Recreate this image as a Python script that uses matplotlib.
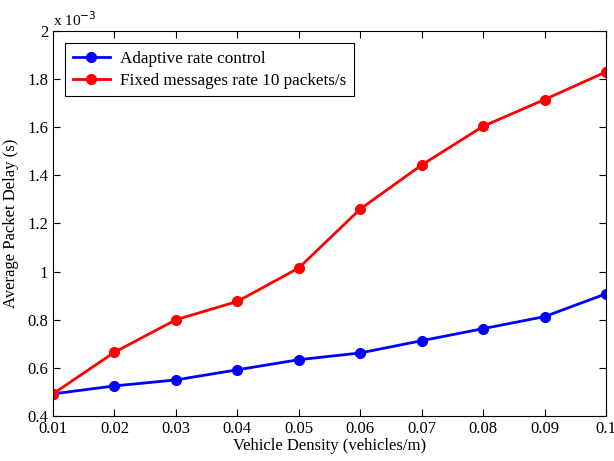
import matplotlib.pyplot as plt
from matplotlib.ticker import FuncFormatter

plt.rcParams['font.family'] = ['Liberation Serif', 'DejaVu Serif']

# vehicle density (vehicles/m)
density = [0.01, 0.02, 0.03, 0.04, 0.05, 0.06, 0.07, 0.08, 0.09, 0.1]

# average packet delay, in units of 1e-3 s
adaptive = [0.492, 0.525, 0.550, 0.592, 0.634, 0.662, 0.713, 0.763, 0.813, 0.908]
fixed = [0.492, 0.665, 0.800, 0.876, 1.015, 1.260, 1.443, 1.604, 1.715, 1.830]

fig = plt.figure(figsize=(6.14, 4.61), dpi=100)
ax = fig.add_axes([0.0863, 0.0976, 0.9007, 0.8352])

ax.plot(density, adaptive, color='blue', marker='o', markersize=7, linewidth=2,
        label='Adaptive rate control')
ax.plot(density, fixed, color='red', marker='o', markersize=7, linewidth=2,
        label='Fixed messages rate 10 packets/s')

ax.set_xlim(0.01, 0.1)
ax.set_ylim(0.4, 2.0)
ax.set_xticks(density)
ax.set_yticks([0.4, 0.6, 0.8, 1.0, 1.2, 1.4, 1.6, 1.8, 2.0])
ax.xaxis.set_major_formatter(FuncFormatter(lambda v, p: '%g' % round(v, 2)))
ax.yaxis.set_major_formatter(FuncFormatter(lambda v, p: '%g' % round(v, 1)))
ax.tick_params(direction='in', top=True, right=True, labelsize=12, length=5)
for s in ax.spines.values():
    s.set_linewidth(0.8)

ax.set_xlabel('Vehicle Density (vehicles/m)', fontsize=12, labelpad=1)
ax.set_ylabel('Average Packet Delay (s)', fontsize=12, labelpad=6)
ax.text(0.0, 1.005, 'x 10$^{-3}$', transform=ax.transAxes, fontsize=11,
        ha='left', va='bottom')

leg = ax.legend(loc='upper left', fontsize=12.3, fancybox=False, framealpha=1,
                edgecolor='black', handlelength=2.2, borderaxespad=0.7,
                labelspacing=0.35, handletextpad=0.6, borderpad=0.45)
leg.get_frame().set_linewidth(0.8)

fig.savefig('out.png', dpi=100)
